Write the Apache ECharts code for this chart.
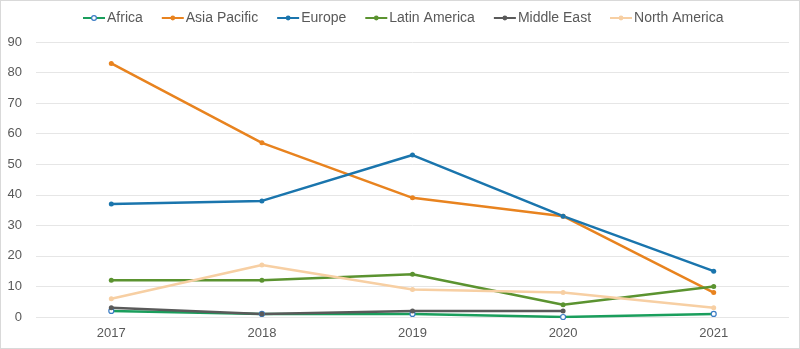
<!DOCTYPE html>
<html><head><meta charset="utf-8">
<script src="https://cdn.jsdelivr.net/npm/echarts@6/dist/echarts.min.js"></script>
<style>html,body{margin:0;padding:0;background:#fff}#c{width:798px;height:347px;border:1px solid #d9d9d9}</style>
</head><body><div id="c"></div>
<script>
const categories = ['2017','2018','2019','2020','2021'];
const africa = [2, 1, 1, 0, 1];
const asiaPacific = [83, 57, 39, 33, 8];
const europe = [37, 38, 53, 33, 15];
const latinAmerica = [12, 12, 14, 4, 10];
const middleEast = [3, 1, 2, 2, null];
const northAmerica = [6, 17, 9, 8, 3];
const yTicks = {min: 0, max: 90, interval: 10};

const defs = [
  {name:'Africa', data:africa, color:'#1a9e5c', hollow:true, mcolor:'#3a7cc4'},
  {name:'Asia Pacific', data:asiaPacific, color:'#e8831f'},
  {name:'Europe', data:europe, color:'#1a75ad'},
  {name:'Latin America', data:latinAmerica, color:'#5b9330'},
  {name:'Middle East', data:middleEast, color:'#5a5a5a'},
  {name:'North America', data:northAmerica, color:'#f7cfa3'}
];
const series = defs.map(d => ({
  name: d.name, type: 'line', data: d.data,
  symbol: 'circle', symbolSize: 5, showSymbol: true,
  lineStyle: {color: d.color, width: 2.5},
  itemStyle: d.hollow ? {color: '#fff', borderColor: d.mcolor, borderWidth: 1.2} : {color: d.color},
  color: d.color,
  connectNulls: false
}));
const chart = echarts.init(document.getElementById('c'));
chart.setOption({
  animation: false,
  legend: {
    top: 5, left: 76, itemWidth: 22, itemHeight: 6, itemGap: 18,
    textStyle: {color: '#595959', fontSize: 14, fontFamily: 'Liberation Sans, Arial', padding:[0,0,0,-3]},
    data: defs.map(d => ({name: d.name, itemStyle: d.hollow ? {color:'#fff', borderColor: d.mcolor, borderWidth: 1.2} : {color: d.color}}))
  },
  grid: {left: 35, right: 10, top: 41, bottom: 31},
  xAxis: {
    type: 'category', data: categories, boundaryGap: true,
    axisLine: {show: false}, axisTick: {show: false},
    axisLabel: {color: '#595959', fontSize: 13, margin: 10, fontFamily: 'Liberation Sans, Arial'}
  },
  yAxis: {
    type: 'value', min: yTicks.min, max: yTicks.max, interval: yTicks.interval,
    axisLine: {show: false}, axisTick: {show: false},
    axisLabel: {color: '#595959', fontSize: 13, margin: 14, fontFamily: 'Liberation Sans, Arial'},
    splitLine: {lineStyle: {color: '#e6e6e6', width: 1}}
  },
  series: series
});
</script></body></html>
